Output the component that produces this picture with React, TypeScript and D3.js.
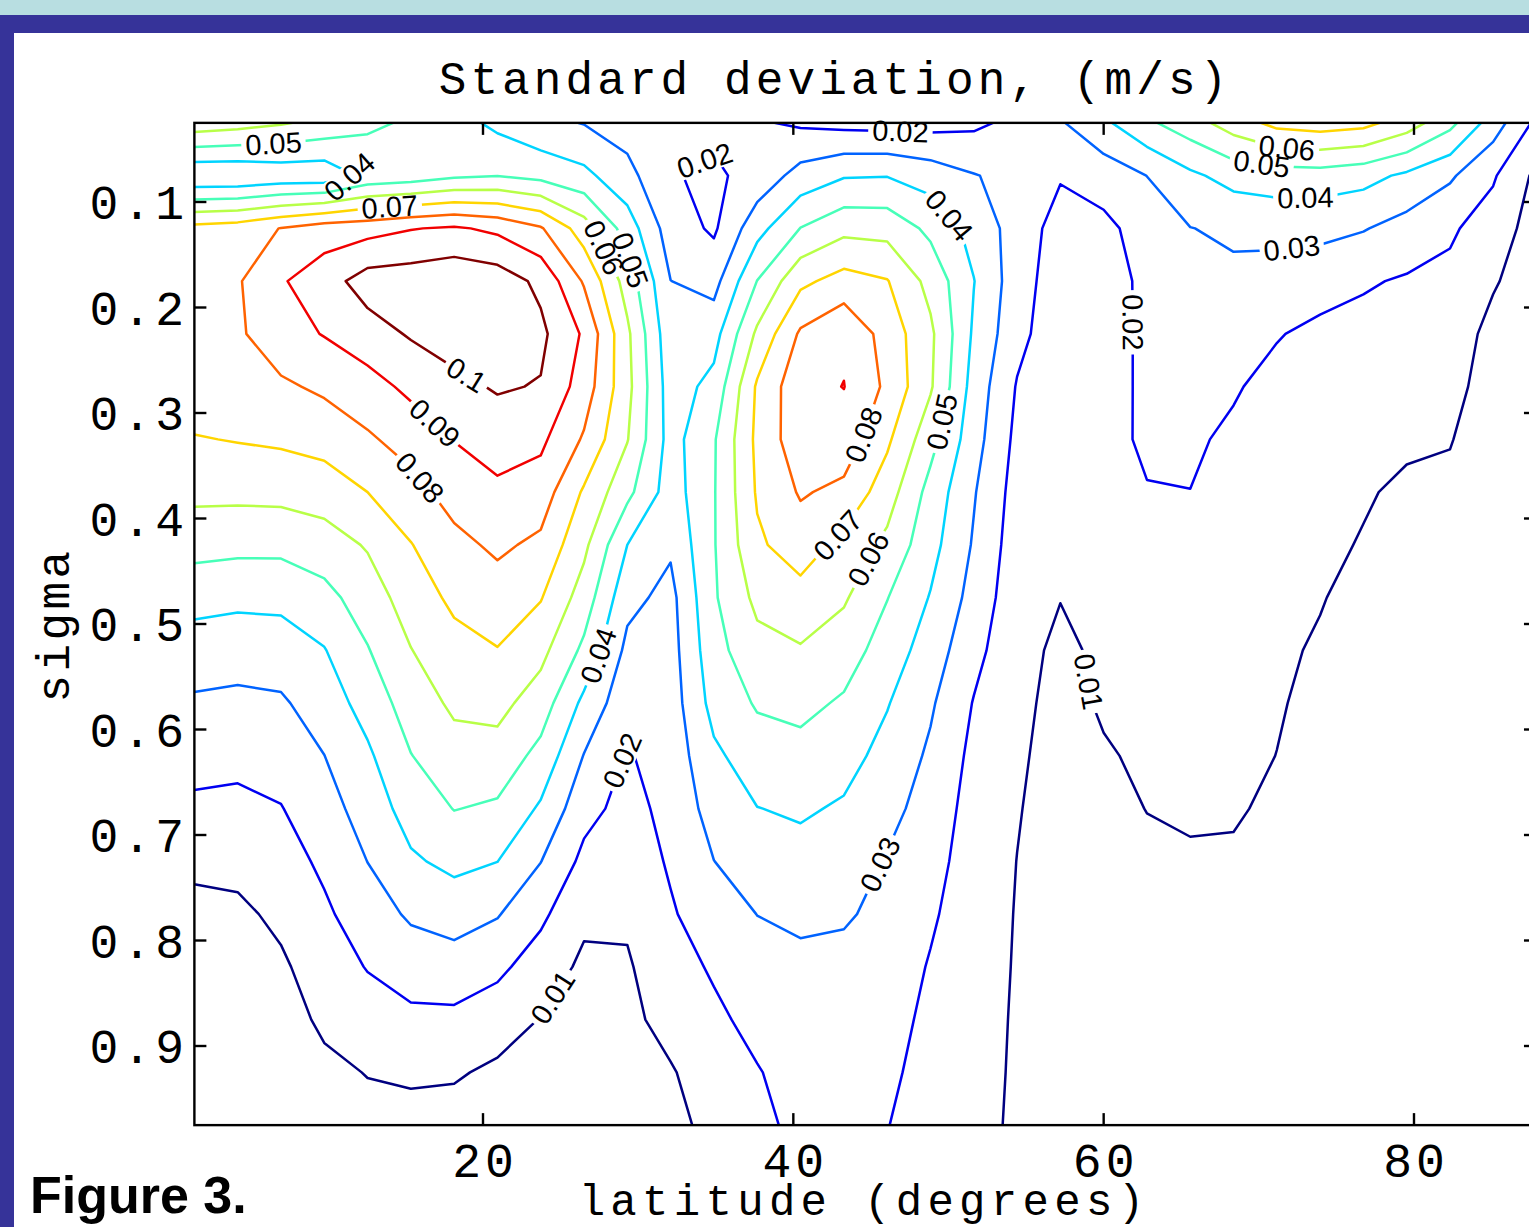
import React from "react";
import * as d3 from "d3";

const WIDTH = 1529;
const HEIGHT = 1227;

// Grid columns: latitude (degrees N)
const LATS = [1.40, 4.19, 6.98, 9.77, 12.56, 15.35, 18.14, 20.93, 23.72, 26.51, 29.30, 32.09, 34.88, 37.67, 40.46, 43.26,
  46.05, 48.84, 51.63, 54.42, 57.21, 60.00, 62.79, 65.58, 68.37, 71.16, 73.95, 76.74, 79.53, 82.32, 85.10, 87.86];
// Grid rows: sigma level
const SIGMAS = [0.025, 0.075, 0.125, 0.175, 0.225, 0.275, 0.325, 0.375, 0.425, 0.475,
  0.525, 0.575, 0.625, 0.675, 0.725, 0.775, 0.825, 0.875, 0.925, 0.975];

// Standard deviation in mm/s, one list per sigma level (columns follow LATS)
const SD_S025 = [66, 64, 61, 57.3, 52, 48.6, 44, 37.6, 32.4, 29.6, 25.5, 24, 22.5, 21, 18.5, 17, 16.4, 16.5, 18, 22.5, 29, 38, 48.2, 55.6, 64.9, 73, 75, 73, 65.1, 53, 35, 18];
const SD_S075 = [31, 31, 33, 33, 42.7, 44.5, 48.3, 49.8, 47, 42.6, 33.2, 20.7, 18.3, 23.5, 33.8, 39.2, 39.6, 35.6, 30.5, 27, 20.8, 24.4, 30.1, 38.1, 43.6, 45.2, 45.6, 43.4, 38.1, 31.5, 21.1, 8];
const SD_S125 = [73, 75, 80.3, 85, 86.4, 89.5, 91.3, 87.9, 81, 64.8, 45.3, 25, 18.5, 36.4, 50.2, 57.2, 56.5, 47.7, 36.5, 25.7, 15.9, 17.6, 24.1, 29.8, 31.6, 32.8, 32.3, 30.6, 26.2, 21.3, 15.6, 5.5];
const SD_S175 = [76, 79, 89, 95.6, 104.5, 105.4, 107.4, 105.4, 97.7, 78.9, 55.7, 30.1, 26.5, 50.2, 67.7, 73.9, 70.5, 56.8, 40.3, 24.5, 14.5, 16.5, 21.8, 27, 28, 26, 24.9, 21, 19, 17.9, 11, 4.5];
const SD_S225 = [78, 78.5, 86, 90.5, 95.7, 101, 104.6, 109, 102.2, 88.6, 62, 33, 36.2, 61.9, 81.5, 88.4, 76, 62, 38.5, 23, 13.5, 15.5, 22.2, 25, 24, 20.7, 17.2, 17, 16.3, 15.4, 7, 4];
const SD_S275 = [76, 76.5, 78.4, 81.8, 86.2, 92.3, 97.4, 101, 99.4, 85.4, 63, 35, 43.1, 71.4, 87, 90.2, 78, 61.2, 36, 19.3, 12.8, 14.7, 22.6, 23.2, 21, 16.7, 15, 14.6, 13.7, 12.9, 6, 3.8];
const SD_S325 = [69.4, 70.5, 71.6, 73.6, 78.6, 84, 90.3, 94.4, 92.1, 78.8, 60.5, 36, 49, 72.3, 86.5, 86, 71.8, 53.5, 34, 17.5, 12, 14, 23, 21.5, 18.2, 14.5, 13.5, 12.4, 11, 10.4, 5.4, 3.6];
const SD_S375 = [62.5, 62.5, 62.9, 64.7, 70, 76.5, 83.8, 88, 85.2, 68.7, 52.7, 35, 49.3, 71.1, 81, 77.5, 64.7, 46.5, 30.8, 16, 11.3, 13.3, 19.1, 19.9, 16.5, 13, 12.3, 10.6, 8.9, 8.3, 5, 3.5];
const SD_S425 = [53.5, 52.6, 52.6, 55.4, 60.9, 69.6, 77.3, 81.8, 77.9, 62.3, 40, 31.5, 49.3, 68.4, 75, 67, 57.5, 43.5, 29, 14.8, 10.7, 12.7, 16.8, 18, 15, 12, 11.3, 9.6, 7.9, 7.4, 4.7, 3.4];
const SD_S475 = [43.4, 42.3, 42.6, 46.9, 54.9, 64.7, 72.1, 75.6, 70.6, 55.5, 32.9, 27, 48.8, 62.5, 66.4, 61.2, 50.3, 39.4, 26.5, 13.7, 10.2, 12.2, 15, 16.3, 13.8, 11.2, 10.2, 8.9, 7.3, 6.8, 4.5, 3.3];
const SD_S525 = [35.2, 34.2, 34.9, 39.5, 49.4, 59.7, 66.6, 69.6, 62.9, 47.8, 27.5, 26, 46.5, 56.7, 59.1, 54.8, 45.4, 35.3, 23, 12.8, 8.3, 11.6, 13.5, 14.8, 12.8, 10.6, 9.6, 8.4, 6.9, 6.4, 4.3, 3.2];
const SD_S575 = [28.6, 27.8, 28.7, 34.7, 43.9, 54.7, 61.8, 63.1, 55.1, 37.6, 23.1, 25, 43.5, 51, 52.7, 48.7, 40.6, 31.3, 19.5, 12, 7.5, 10.9, 12.3, 13.3, 11.9, 10.4, 8.8, 8, 6.6, 6.1, 4.2, 3.1];
const SD_S625 = [23.5, 22.6, 24.1, 29.9, 38.3, 49.7, 56.2, 56.1, 47, 29.6, 19.2, 24, 38, 45.4, 46.8, 43.6, 36.7, 28.4, 17.5, 11.2, 7, 9.3, 11.2, 12, 11.2, 9.95, 8.4, 7.7, 6.4, 5.9, 4.1, 3];
const SD_S675 = [18.1, 17.6, 19.6, 25.9, 34.4, 44.1, 50.3, 48.5, 38.6, 23.3, 16.6, 23, 33.9, 39.8, 41.3, 38.8, 32.9, 26.1, 16, 10.5, 6.5, 8.5, 10.1, 10.8, 10.4, 9.3, 8, 7.4, 6.2, 5.7, 4, 3];
const SD_S725 = [12.3, 12.8, 15.8, 21.9, 30.1, 38.6, 42.5, 40.1, 30.2, 17.5, 14, 21.2, 29.9, 35, 36.6, 34.9, 29.3, 23.8, 15, 9.9, 6.2, 8, 9, 9.3, 9.5, 8.8, 7.7, 7.2, 6, 5.5, 3.9, 2.9];
const SD_S775 = [7, 8, 12.1, 18.3, 25.3, 31.4, 34.2, 30.7, 22, 12.1, 11.4, 18.9, 25.6, 30.1, 32.1, 31, 27.7, 21.5, 14, 9.6, 6, 7.5, 8.3, 8.5, 8.8, 8.3, 7.4, 7, 5.8, 5.3, 3.8, 2.9];
const SD_S825 = [6, 6.5, 8.5, 14.9, 20.5, 24.6, 25.7, 22.1, 15.5, 8, 9, 16, 21.2, 26.5, 27.5, 27.5, 25.9, 19.2, 13.5, 9.4, 5.8, 7, 7.8, 7.9, 8.2, 7.9, 7.1, 6.8, 5.7, 5.2, 3.7, 2.8];
const SD_S875 = [5, 5.5, 6.5, 11.5, 15.4, 17.8, 17.8, 14.9, 9.6, 7, 7.5, 13.5, 18, 22.9, 25.5, 26, 24, 17.5, 13, 9.2, 5.6, 6.7, 7.4, 7.5, 7.8, 7.5, 6.9, 6.6, 5.6, 5.1, 3.6, 2.8];
const SD_S925 = [4.5, 4.5, 5.5, 8.1, 10.3, 11.8, 11.1, 8.1, 7, 6, 6.5, 9.1, 15.5, 19.4, 24, 25, 22.2, 16, 12.5, 9.1, 5.5, 6.4, 7, 7.1, 7.4, 7.2, 6.7, 6.4, 5.5, 5, 3.5, 2.7];
const SD_S975 = [4, 4, 5, 6.5, 7.5, 6, 6, 6, 6, 5.5, 6, 7, 13, 17, 23, 24, 20.3, 15, 12, 9, 5.4, 6.2, 6.8, 6.8, 7, 7, 6.5, 6.2, 5.4, 4.9, 3.5, 2.7];

const SD_ROWS = [SD_S025, SD_S075, SD_S125, SD_S175, SD_S225, SD_S275, SD_S325, SD_S375, SD_S425, SD_S475,
  SD_S525, SD_S575, SD_S625, SD_S675, SD_S725, SD_S775, SD_S825, SD_S875, SD_S925, SD_S975];

// Contour levels (mm/s) and the text shown for them (m/s)
const LEVELS = [10, 20, 30, 40, 50, 60, 70, 80, 90, 100];
const LEVEL_TEXT = ["0.01", "0.02", "0.03", "0.04", "0.05", "0.06", "0.07", "0.08", "0.09", "0.1"];

// Inline labels: level, and roughly where they sit (latitude, sigma)
const LABEL_LEVEL = [50, 40, 70, 100, 90, 80, 60, 50, 20, 20, 40, 80, 50, 70, 60, 40, 20, 30, 10, 10, 20, 60, 50, 40, 30];
const LABEL_LAT = [6.5, 11.45, 14.0, 18.8, 16.8, 15.8, 27.5, 29.1, 34.4, 46.9, 50.1, 44.6, 49.5, 43.0, 44.9, 27.3, 28.5, 45.6, 24.3, 58.5, 62.2, 71.8, 70.2, 73.0, 72.1];
const LABEL_SIGMA = [0.046, 0.080, 0.106, 0.267, 0.311, 0.363, 0.145, 0.157, 0.063, 0.034, 0.112, 0.321, 0.308, 0.418, 0.439, 0.529, 0.627, 0.728, 0.852, 0.556, 0.214, 0.051, 0.062, 0.098, 0.141];

const X_TICKS = [20, 40, 60, 80];
const Y_TICKS = [0.1, 0.2, 0.3, 0.4, 0.5, 0.6, 0.7, 0.8, 0.9];

const MONO = "'Liberation Mono', 'DejaVu Sans Mono', monospace";
const SANS = "'Liberation Sans', Arial, sans-serif";
const LABEL_SIZE = 29;
const CHORD = 20; // half length used to orient a label along its line

function jet(t) {
  const c = (v) => Math.round(255 * Math.max(0, Math.min(1, v)));
  return d3.rgb(c(1.5 - Math.abs(4 * t - 3)), c(1.5 - Math.abs(4 * t - 2)), c(1.5 - Math.abs(4 * t - 1))).formatHex();
}

function textWidth(str) {
  let w = 0;
  for (const ch of str) w += ch === "." ? 0.278 : 0.556;
  return w * LABEL_SIZE;
}

function pointAlong(pts, cum, s) {
  const total = cum[cum.length - 1];
  s = ((s % total) + total) % total;
  let k = d3.bisectRight(cum, s);
  k = Math.max(1, Math.min(cum.length - 1, k));
  const seg = cum[k] - cum[k - 1] || 1;
  const t = (s - cum[k - 1]) / seg;
  return [pts[k - 1][0] + t * (pts[k][0] - pts[k - 1][0]), pts[k - 1][1] + t * (pts[k][1] - pts[k - 1][1])];
}

export default function App() {
  const x = d3.scaleLinear().domain([20, 80]).range([483, 1414]);
  const y = d3.scaleLinear().domain([0.1, 0.9]).range([202, 1046]);
  const x0 = x(LATS[0]);
  const x1 = x(LATS[LATS.length - 1]);
  const y0 = y(SIGMAS[0]);
  const y1 = y(SIGMAS[SIGMAS.length - 1]);

  // grid index (cell centres at i + 0.5) -> pixels
  const col = d3.scaleLinear().domain(LATS.map((_, i) => i + 0.5)).range(LATS.map((v) => x(v)));
  const row = d3.scaleLinear().domain(SIGMAS.map((_, i) => i + 0.5)).range(SIGMAS.map((v) => y(v)));

  const contours = d3.contours().size([LATS.length, SIGMAS.length]).thresholds(LEVELS)(SD_ROWS.flat());
  const path = d3.geoPath(d3.geoTransform({
    point(px, py) { this.stream.point(col(px), row(py)); }
  }));

  const color = (i) => jet(i / (LEVELS.length - 1));

  // snap each label onto its contour and turn it along the line
  const labels = LABEL_LEVEL.map((lev, i) => {
    const li = LEVELS.indexOf(lev);
    const px = x(LABEL_LAT[i]);
    const py = y(LABEL_SIGMA[i]);
    let best = { d: Infinity, x: px, y: py, a: 0 };
    contours[li].coordinates.forEach((poly) => poly.forEach((ring) => {
      const pts = ring.map((p) => [col(p[0]), row(p[1])]);
      const cum = [0];
      for (let k = 1; k < pts.length; k++) {
        cum.push(cum[k - 1] + Math.hypot(pts[k][0] - pts[k - 1][0], pts[k][1] - pts[k - 1][1]));
      }
      for (let k = 1; k < pts.length; k++) {
        const [ax, ay] = pts[k - 1];
        const [bx, by] = pts[k];
        const mx = (ax + bx) / 2, my = (ay + by) / 2;
        if (mx < x0 || mx > x1 || my < y0 || my > y1) continue;
        const dx = bx - ax, dy = by - ay;
        const len = dx * dx + dy * dy;
        if (!len) continue;
        let t = ((px - ax) * dx + (py - ay) * dy) / len;
        t = Math.max(0, Math.min(1, t));
        const qx = ax + t * dx, qy = ay + t * dy;
        const d = (qx - px) ** 2 + (qy - py) ** 2;
        if (d < best.d) {
          const s = cum[k - 1] + t * Math.sqrt(len);
          const p0 = pointAlong(pts, cum, s - CHORD);
          const p1 = pointAlong(pts, cum, s + CHORD);
          best = { d, x: qx, y: qy, a: (Math.atan2(p1[1] - p0[1], p1[0] - p0[0]) * 180) / Math.PI };
        }
      }
    }));
    let a = best.a;
    if (a >= 90) a -= 180;
    if (a < -90) a += 180;
    return { li, x: best.x, y: best.y, a, text: LEVEL_TEXT[li] };
  });

  return (
    <svg width={WIDTH} height={HEIGHT} style={{ position: "absolute", left: 0, top: 0, background: "#fff" }}>
      <rect x={0} y={0} width={WIDTH} height={HEIGHT} fill="#fff" />
      <rect x={0} y={0} width={WIDTH} height={15} fill="#b8dee1" />
      <rect x={0} y={15} width={WIDTH} height={18} fill="#363399" />
      <rect x={0} y={15} width={14} height={HEIGHT - 15} fill="#363399" />

      <defs>
        <clipPath id="plot-clip">
          <rect x={x0} y={y0} width={x1 - x0} height={y1 - y0} />
        </clipPath>
        {LEVELS.map((lev, li) => (
          <mask key={lev} id={`gap-${li}`} maskUnits="userSpaceOnUse" x={0} y={0} width={WIDTH} height={HEIGHT}>
            <rect x={0} y={0} width={WIDTH} height={HEIGHT} fill="#fff" />
            {labels.filter((l) => l.li === li).map((l, k) => {
              const w = textWidth(l.text) + 8;
              return (
                <rect key={k} x={-w / 2} y={-12} width={w} height={24} fill="#000"
                  transform={`translate(${l.x},${l.y}) rotate(${l.a})`} />
              );
            })}
          </mask>
        ))}
      </defs>

      <g clipPath="url(#plot-clip)">
        {contours.map((c, li) => (
          <path key={li} d={path(c)} fill="none" stroke={color(li)} strokeWidth={2.5}
            strokeLinejoin="round" mask={`url(#gap-${li})`} />
        ))}
      </g>

      <g fontFamily={SANS} fontSize={LABEL_SIZE} fill="#000">
        {labels.map((l, i) => (
          <text key={i} textAnchor="middle" dominantBaseline="central"
            transform={`translate(${l.x},${l.y}) rotate(${l.a})`}>{l.text}</text>
        ))}
      </g>

      {/* axes box and ticks */}
      <g stroke="#000" strokeWidth={2.4} fill="none">
        <rect x={x0} y={y0} width={x1 - x0} height={y1 - y0} />
        {X_TICKS.map((t) => (
          <g key={t}>
            <line x1={x(t)} x2={x(t)} y1={y0} y2={y0 + 12} />
            <line x1={x(t)} x2={x(t)} y1={y1} y2={y1 - 12} />
          </g>
        ))}
        {Y_TICKS.map((t) => (
          <g key={t}>
            <line x1={x0} x2={x0 + 12} y1={y(t)} y2={y(t)} />
            <line x1={x1} x2={x1 - 12} y1={y(t)} y2={y(t)} />
          </g>
        ))}
      </g>

      <g fontFamily={MONO} fontSize={48} letterSpacing={4} fill="#000">
        {Y_TICKS.map((t) => (
          <text key={t} x={188} y={y(t) + 17} textAnchor="end">{String(t)}</text>
        ))}
        {X_TICKS.map((t) => (
          <text key={t} x={x(t) + 2} y={1177} textAnchor="middle">{String(t)}</text>
        ))}
      </g>

      <text x={835} y={94} textAnchor="middle" fontFamily={MONO} fontSize={46} letterSpacing={4.1}>Standard deviation, (m/s)</text>
      <text x={864} y={1215} textAnchor="middle" fontFamily={MONO} fontSize={44} letterSpacing={5.3}>latitude (degrees)</text>
      <text transform="translate(69,625) rotate(-90)" textAnchor="middle" fontFamily={MONO} fontSize={46} letterSpacing={3.4}>sigma</text>
      <text x={30} y={1213} fontFamily={SANS} fontWeight="bold" fontSize={52}>Figure 3.</text>
    </svg>
  );
}
